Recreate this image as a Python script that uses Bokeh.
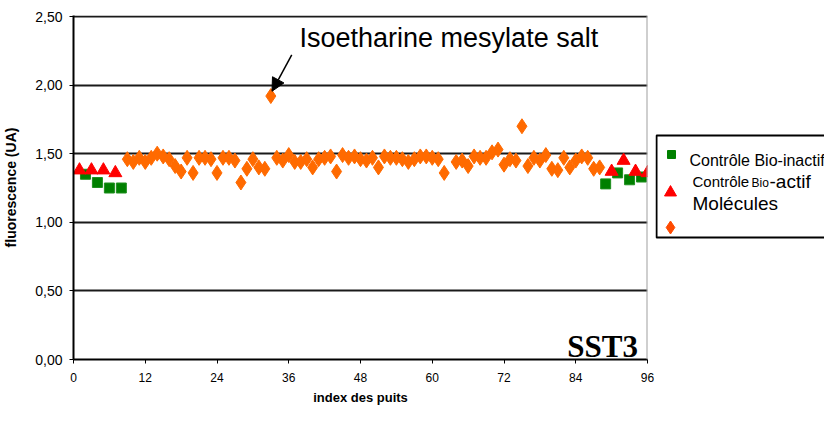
from bokeh.plotting import figure
from bokeh.layouts import row
from bokeh.models import Range1d, FixedTicker, Label, Arrow, NormalHead, Span
from bokeh.embed import file_html
from bokeh.resources import INLINE

nan = float("nan")

# ---- data ----
inactif_x = [2, 4, 6, 8, 89, 91, 93, 95]
inactif_y = [1.35, 1.29, 1.25, 1.25, 1.28, 1.36, 1.31, 1.33]

actif_x = [1, 3, 5, 7, 90, 92, 94, 96]
actif_y = [1.38, 1.38, 1.38, 1.36, 1.37, 1.45, 1.37, 1.36]

mol_x = list(range(9, 89))
mol_y = [1.46, 1.44, 1.47, 1.44, 1.47, 1.50, 1.48, 1.46, 1.41, 1.37,   # 9-18
         1.47, 1.36, 1.47, 1.47, 1.46, 1.36, 1.47, 1.47, 1.45, 1.29,   # 19-28
         1.39, 1.46, 1.40, 1.39, 1.92, 1.47, 1.45, 1.49, 1.44, 1.44,   # 29-38
         1.46, 1.40, 1.46, 1.47, 1.48, 1.37, 1.49, 1.47, 1.48, 1.46,   # 39-48
         1.45, 1.47, 1.40, 1.48, 1.47, 1.47, 1.46, 1.44, 1.46, 1.48,   # 49-58
         1.48, 1.47, 1.46, 1.36, nan,  1.44, 1.45, 1.41, 1.48, 1.47,   # 59-68
         1.47, 1.51, 1.53, 1.42, 1.46, 1.45, 1.70, 1.41, 1.47, 1.45,   # 69-78
         1.49, 1.39, 1.38, 1.47, 1.40, 1.45, 1.48, 1.47, 1.39, 1.40]   # 79-88

x_ticks = [0, 12, 24, 36, 48, 60, 72, 84, 96]
y_ticks = [0.0, 0.5, 1.0, 1.5, 2.0, 2.5]
y_tick_labels = ["0,00", "0,50", "1,00", "1,50", "2,00", "2,50"]

annot_text = "Isoetharine mesylate salt"
annot_well = 33
annot_value = 1.92

SANS = "Liberation Sans"
SERIF = "Liberation Serif"

TOP = 15
BOTTOM = 48
H = 407

# ---- main figure ----
p = figure(width=655, height=H, x_range=Range1d(0, 96), y_range=Range1d(0, 2.5073),
           output_backend="svg", toolbar_location=None, title=None,
           min_border_left=72, min_border_right=8, min_border_top=TOP, min_border_bottom=BOTTOM)
p.outline_line_color = None
p.background_fill_color = "white"

p.xaxis.ticker = FixedTicker(ticks=x_ticks)
p.yaxis.ticker = FixedTicker(ticks=y_ticks)
p.yaxis.major_label_overrides = dict(zip(y_ticks, y_tick_labels))

for ax in (p.xaxis, p.yaxis):
    ax.axis_line_color = "black"
    ax.axis_line_width = 2
    ax.major_tick_line_color = "black"
    ax.major_tick_out = 4
    ax.major_tick_in = 0
    ax.minor_tick_line_color = None
    ax.major_label_text_font = SANS
    ax.major_label_text_color = "black"
    ax.axis_label_text_font = SANS
    ax.axis_label_text_font_style = "bold"
    ax.axis_label_text_color = "black"

p.xaxis.major_label_text_font_size = "12px"
p.yaxis.major_label_text_font_size = "14px"
p.xaxis.major_label_standoff = 9
p.xaxis.axis_label = "index des puits"
p.xaxis.axis_label_text_font_size = "13px"
p.xaxis.axis_label_standoff = 5
p.yaxis.major_label_standoff = 7
p.yaxis.axis_label = "fluorescence (UA)"
p.yaxis.axis_label_text_font_size = "14px"
p.yaxis.axis_label_standoff = 13

p.xgrid.visible = False
p.ygrid.ticker = FixedTicker(ticks=y_ticks)
p.ygrid.grid_line_color = "#1a1a1a"
p.ygrid.grid_line_width = 2

p.add_layout(Span(location=96, dimension="height", line_color="#a0a0a0", line_width=2))

p.scatter(inactif_x, inactif_y, marker="square", size=10, fill_color="#008000", line_color="#1f8f1f")
p.scatter(actif_x, actif_y, marker="triangle", size=13, fill_color="#FF0000", line_color="#FF0000")
p.scatter(mol_x, mol_y, marker="diamond", size=15, fill_color="#FF6A00", line_color="#FF6A00")

p.add_layout(Arrow(end=NormalHead(size=13, fill_color="black", line_color="black"),
                   x_start=annot_well + 3.5, y_start=annot_value + 0.30,
                   x_end=annot_well + 0.2, y_end=annot_value + 0.035,
                   line_color="black", line_width=1.5))
p.add_layout(Label(x=annot_well + 4.8, y=annot_value + 0.42, text=annot_text,
                   text_font=SANS, text_font_size="27px", text_color="black",
                   text_baseline="alphabetic"))
p.add_layout(Label(x=94.4, y=0.095, text="SST3", text_font=SERIF, text_font_style="bold",
                   text_font_size="31px", text_color="black", text_align="right",
                   text_baseline="alphabetic"))

# ---- legend panel (same vertical borders, y in canvas pixels) ----
LW = 169
leg = figure(width=LW, height=H, x_range=Range1d(0, LW), y_range=Range1d(H - BOTTOM, TOP),
             output_backend="svg", toolbar_location=None, title=None,
             x_axis_type=None, y_axis_type=None,
             min_border_left=0, min_border_right=0, min_border_top=TOP, min_border_bottom=BOTTOM)
leg.outline_line_color = None
leg.grid.visible = False
leg.quad(left=1, right=250, top=135, bottom=237, fill_color=None, line_color="black", line_width=2)
leg.scatter([16], [154], marker="square", size=8, fill_color="#008000", line_color="#008000")
leg.scatter([15], [192], marker="triangle", size=12, fill_color="#FF0000", line_color="#FF0000")
leg.scatter([15], [227], marker="diamond", size=13, fill_color="#FF4A00", line_color="#FF4A00")

def leg_label(x, y, t, size):
    leg.add_layout(Label(x=x, y=y, text=t, text_font=SANS, text_font_size=size,
                         text_color="black", text_baseline="alphabetic"))

leg_label(34, 160, "Contrôle Bio-inactif", "16px")
leg_label(37, 181, "Contrôle", "15px")
leg_label(96, 182, "Bio", "12px")
leg_label(114, 181, "-actif", "19px")
leg_label(37, 203, "Molécules", "19px")

layout = row(p, leg)
open("out.html", "w").write(file_html(layout, INLINE))
